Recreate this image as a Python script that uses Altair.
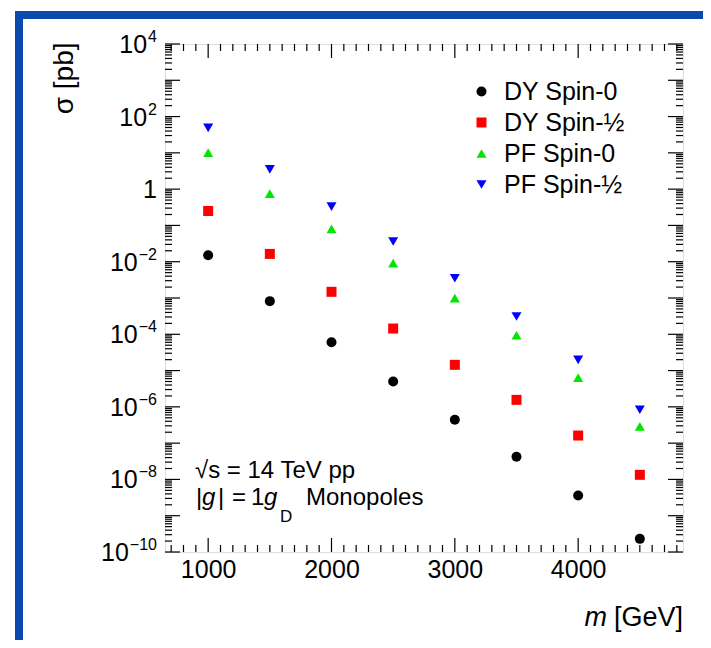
import altair as alt
import pandas as pd

# ---------------- data ----------------
mass = [1000, 1500, 2000, 2500, 3000, 3500, 4000, 4500]
series = ["DY Spin-0", "DY Spin-½", "PF Spin-0", "PF Spin-½"]
dy_spin0 = [1.5e-2, 8.2e-4, 6.0e-5, 5.0e-6, 4.4e-7, 4.2e-8, 3.6e-9, 2.3e-10]
dy_spin12 = [0.25, 1.64e-2, 1.48e-3, 1.44e-4, 1.44e-5, 1.56e-6, 1.62e-7, 1.34e-8]
pf_spin0 = [10.1, 0.75, 0.080, 9.1e-3, 9.9e-4, 9.4e-5, 6.4e-6, 2.9e-7]
pf_spin12 = [49.0, 3.5, 0.33, 0.036, 3.5e-3, 3.1e-4, 1.97e-5, 8.3e-7]

colors = ["#000000", "#FF0000", "#00E600", "#0000FF"]
shapes = ["circle", "square", "triangle-up", "triangle-down"]

x_label_values = [1000, 2000, 3000, 4000]
x_minor_values = [v for v in range(700, 4900, 100) if v not in x_label_values]
y_label_exps = [4, 2, 0, -2, -4, -6, -8, -10]
y_label_bases = ["10", "10", "1", "10", "10", "10", "10", "10"]
y_label_sups = ["4", "2", "", "−2", "−4", "−6", "−8", "−10"]
y_major_values = [10.0 ** k for k in range(-10, 5)]
y_minor_values = [d * 10.0 ** k for k in range(-10, 4) for d in range(2, 10)]

rows = []
for name, vals in zip(series, [dy_spin0, dy_spin12, pf_spin0, pf_spin12]):
    for m, v in zip(mass, vals):
        rows.append({"m": m, "sigma": v, "series": name})
df = pd.DataFrame(rows)

FONT = "Liberation Sans, Arial, Helvetica, sans-serif"
W, H = 518, 508
LAB = 25      # tick label size
SUP = 16      # exponent size

xscale = alt.Scale(domain=[650, 4850], nice=False, zero=False)
yscale = alt.Scale(type="log", domain=[1e-10, 1e4], nice=False)

xaxis = alt.Axis(values=x_label_values, format="d", ticks=False, domain=False, grid=False,
                 labelFont=FONT, labelFontSize=LAB, labelPadding=5, labelColor="black",
                 title=None, labelFlush=False)
yaxis = alt.Axis(values=[10.0 ** k for k in y_label_exps], labels=False, ticks=False,
                 domain=False, grid=False, title="σ [pb]", titleFont=FONT,
                 titleFontSize=28, titleFontWeight="normal", titleColor="black",
                 titleAngle=-90, titleX=-87, titleY=-2, titleAlign="right",
                 titleBaseline="bottom")

xenc = alt.X("m:Q", scale=xscale, axis=xaxis)
yenc = alt.Y("sigma:Q", scale=yscale, axis=yaxis)

legend = alt.Legend(title=None, orient="none", legendX=304, legendY=35,
                    labelFont=FONT, labelFontSize=25, labelColor="black",
                    symbolSize=100, labelOffset=10, rowPadding=5,
                    padding=0, symbolStrokeWidth=0)

points = alt.Chart(df).mark_point(filled=True, opacity=1, size=100, strokeWidth=0).encode(
    x=xenc,
    y=yenc,
    color=alt.Color("series:N", scale=alt.Scale(domain=series, range=colors), legend=legend),
    shape=alt.Shape("series:N", scale=alt.Scale(domain=series, range=shapes), legend=legend),
)


def yticks(vals, x0, x1):
    d = pd.DataFrame({"sigma": vals})
    return alt.Chart(d).mark_rule(color="black", strokeWidth=1.2).encode(
        y=yenc, x=alt.value(x0), x2=alt.value(x1))


def xticks(vals, y0, y1):
    d = pd.DataFrame({"m": vals})
    return alt.Chart(d).mark_rule(color="black", strokeWidth=1.2).encode(
        x=xenc, y=alt.value(y0), y2=alt.value(y1))


def char_w(s, size):
    return sum((0.556 if c.isdigit() else 0.584) for c in s) * size


# y tick labels: base + superscript exponent, right aligned 8px left of the frame
ylabel_layers = []
for ex, base, sup in zip(y_label_exps, y_label_bases, y_label_sups):
    d = pd.DataFrame({"sigma": [10.0 ** ex], "base": [base], "sup": [sup]})
    sw = char_w(sup, SUP) + (1 if sup else 0)
    ylabel_layers.append(
        alt.Chart(d).mark_text(font=FONT, fontSize=LAB, align="right", baseline="alphabetic",
                               dy=9, color="black").encode(
            y=yenc, x=alt.value(-8 - sw), text="base:N"))
    if sup:
        ylabel_layers.append(
            alt.Chart(d).mark_text(font=FONT, fontSize=SUP, align="right", baseline="alphabetic",
                                   dy=-2, color="black").encode(
                y=yenc, x=alt.value(-8), text="sup:N"))

one = pd.DataFrame({"a": [0]})


def txt(text, x, y, size=24, style="normal", align="left"):
    return alt.Chart(one).mark_text(text=text, font=FONT, fontSize=size, fontStyle=style,
                                    align=align, baseline="alphabetic", color="black").encode(
        x=alt.value(x), y=alt.value(y))


def rect(x0, x1, y0, y1):
    return alt.Chart(one).mark_rect(color="#0A4AAE").encode(
        x=alt.value(x0), x2=alt.value(x1), y=alt.value(y0), y2=alt.value(y1))


layers = [
    rect(-150, 540, -33, -25),
    rect(-150, -142, -33, 600),
    yticks(y_major_values, 0, 15),
    yticks(y_minor_values, 0, 7),
    yticks(y_major_values, W, W - 15),
    yticks(y_minor_values, W, W - 7),
    xticks(x_label_values, H, H - 14),
    xticks(x_minor_values, H, H - 7),
    xticks(x_label_values, 0, 14),
    xticks(x_minor_values, 0, 7),
    points,
    *ylabel_layers,
    # annotation
    txt("√s = 14 TeV pp", 30, 434),
    txt("|", 31, 461),
    txt("g", 37, 461, style="italic"),
    txt("|", 53, 461),
    txt("=", 67, 461),
    txt("1", 86, 461),
    txt("g", 99, 461, style="italic"),
    txt("D", 115, 478, size=17),
    txt("Monopoles", 141, 461),
    # x title
    txt("[GeV]", W, 582, size=27, align="right"),
    txt("m", W - 76, 582, size=27, style="italic", align="right"),
]

chart = alt.layer(*layers).properties(
    width=W, height=H,
    autosize=alt.AutoSizeParams(type="none"),
    padding={"left": 157, "top": 36, "right": 20, "bottom": 88},
).configure_view(stroke="black", strokeWidth=2, fill="white").configure(background="white")

chart.save("out.html", embed_options={"renderer": "svg", "actions": False})
